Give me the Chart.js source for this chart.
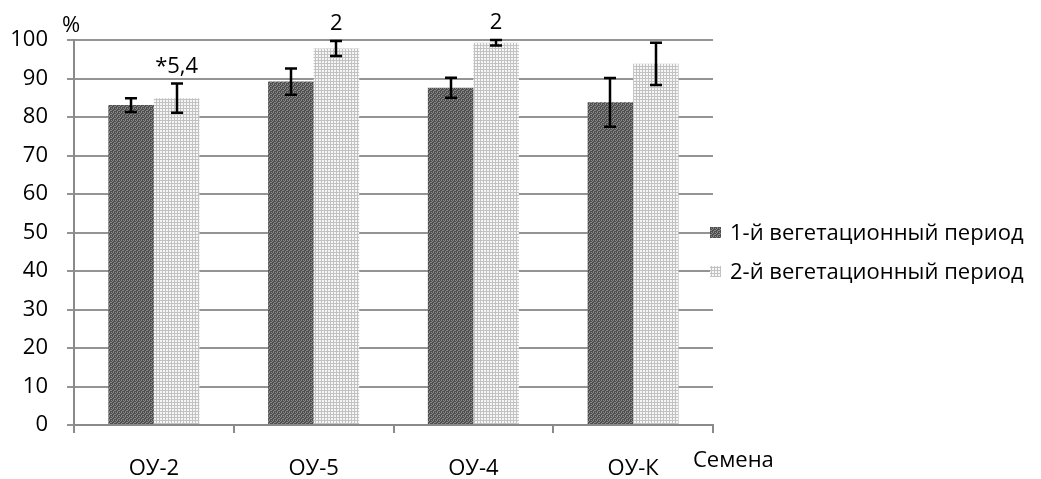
<!DOCTYPE html>
<html>
<head>
<meta charset="utf-8">
<script src="https://cdn.jsdelivr.net/npm/chart.js@4.4.1/dist/chart.umd.min.js"></script>
<style>
  html, body { margin: 0; padding: 0; background: #fff; }
  #wrap { width: 1041px; height: 479px; }
</style>
</head>
<body>
<div id="wrap"><canvas id="c" width="1041" height="479"></canvas></div>
<script>
// Seed samples and the two growing seasons
const categories = ['ОУ-2', 'ОУ-5', 'ОУ-4', 'ОУ-К'];
const seriesNames = ['1-й вегетационный период', '2-й вегетационный период'];
const period1 = [83.1, 89.2, 87.6, 83.8];
const period1Err = [1.8, 3.4, 2.6, 6.3];
const period2 = [84.9, 97.8, 99.3, 93.8];
const period2Err = [3.8, 1.95, 0.7, 5.5];
const period2Notes = ['*5,4', '2', '2', ''];
const yTicks = [0, 10, 20, 30, 40, 50, 60, 70, 80, 90, 100];

const FONT = '"Open Sans", "Noto Sans", sans-serif';
const FS = 22;

// Hatch fills for the bars
function darkHatch() {
  const t = document.createElement('canvas');
  t.width = 4; t.height = 4;
  const g = t.getContext('2d');
  g.fillStyle = '#4e4e4e';
  g.fillRect(0, 0, 4, 4);
  g.fillStyle = '#8a8a8a';
  [[1,0],[3,0],[0,1],[2,2],[1,3],[3,2]].forEach(([x, y]) => g.fillRect(x, y, 1, 1));
  return g.createPattern(t, 'repeat');
}
function lightHatch() {
  const t = document.createElement('canvas');
  t.width = 3; t.height = 3;
  const g = t.getContext('2d');
  g.fillStyle = '#f6f6f6';
  g.fillRect(0, 0, 3, 3);
  g.fillStyle = '#c2c2c2';
  g.fillRect(0, 0, 3, 1);
  g.fillRect(0, 0, 1, 3);
  return g.createPattern(t, 'repeat');
}

// Error bars, value notes, legend and the free-standing axis captions
const extras = {
  id: 'extras',
  afterDraw(chart) {
    const ctx = chart.ctx;
    const y = chart.scales.y;
    const area = chart.chartArea;
    const errs = [period1Err, period2Err];
    ctx.save();
    ctx.strokeStyle = '#000';
    ctx.lineWidth = 2.5;
    chart.data.datasets.forEach((ds, di) => {
      const meta = chart.getDatasetMeta(di);
      meta.data.forEach((bar, i) => {
        const v = ds.data[i], e = errs[di][i];
        const yt = y.getPixelForValue(v + e);
        const yb = y.getPixelForValue(v - e);
        const cx = Math.round(bar.x);
        ctx.beginPath();
        ctx.moveTo(cx, yt); ctx.lineTo(cx, yb);
        ctx.moveTo(cx - 6, yt); ctx.lineTo(cx + 6, yt);
        ctx.moveTo(cx - 6, yb); ctx.lineTo(cx + 6, yb);
        ctx.stroke();
      });
    });
    // notes above the second-season bars
    ctx.fillStyle = '#000';
    ctx.font = FS + 'px ' + FONT;
    ctx.textAlign = 'center';
    ctx.textBaseline = 'alphabetic';
    chart.getDatasetMeta(1).data.forEach((bar, i) => {
      if (!period2Notes[i]) return;
      const yt = y.getPixelForValue(period2[i] + period2Err[i]);
      ctx.fillText(period2Notes[i], bar.x, yt - 11);
    });
    // legend
    ctx.textAlign = 'left';
    ctx.textBaseline = 'middle';
    const mid = (area.top + area.bottom) / 2 + 20;
    chart.data.datasets.forEach((ds, di) => {
      const cy = mid + (di - 0.5) * 39;
      ctx.fillStyle = ds.backgroundColor;
      ctx.fillRect(area.right - 3, cy - 6, 11, 11);
      ctx.fillStyle = '#000';
      ctx.fillText(ds.label, area.right + 17, cy + 1);
    });
    // axis captions
    ctx.fillText('%', y.right - 12, area.top - 14);
    ctx.fillText('Семена', area.right - 20, area.bottom + 36);
    ctx.restore();
  }
};

new Chart(document.getElementById('c'), {
  type: 'bar',
  data: {
    labels: categories,
    datasets: [
      { label: seriesNames[0], data: period1, backgroundColor: darkHatch(), borderWidth: 0 },
      { label: seriesNames[1], data: period2, backgroundColor: lightHatch(), borderWidth: 0 }
    ]
  },
  options: {
    responsive: false,
    animation: false,
    devicePixelRatio: 1,
    layout: { padding: { top: 40, left: 10, right: 328, bottom: 0 } },
    datasets: { bar: { categoryPercentage: 0.57, barPercentage: 1.0 } },
    plugins: {
      legend: { display: false },
      tooltip: { enabled: false }
    },
    scales: {
      x: {
        grid: { drawOnChartArea: false, drawTicks: true, tickLength: 8, color: '#8a8a8a', lineWidth: 2, offset: true },
        border: { color: '#8a8a8a', width: 2 },
        ticks: { font: { family: FONT, size: FS }, color: '#000', padding: 23 },
        afterFit(s) { s.height = 54; }
      },
      y: {
        min: 0, max: 100,
        z: 1,
        afterBuildTicks(s) { s.ticks = yTicks.map(v => ({ value: v })); },
        grid: { color: 'rgba(0,0,0,0.42)', lineWidth: 2, tickLength: 7 },
        border: { color: '#8a8a8a', width: 2 },
        ticks: { font: { family: FONT, size: FS }, color: '#000', padding: 19 },
        afterFit(s) { s.width = 64; }
      }
    }
  },
  plugins: [extras]
});
</script>
</body>
</html>
